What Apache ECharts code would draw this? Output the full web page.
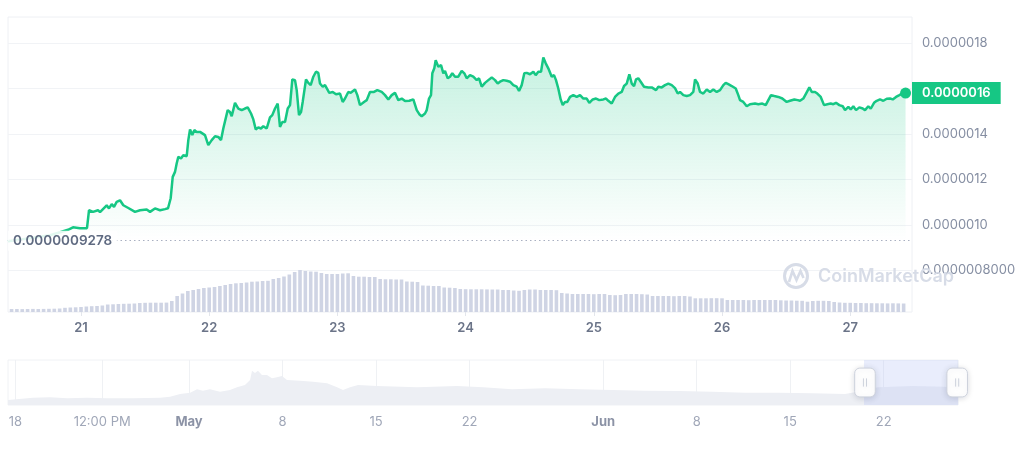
<!DOCTYPE html>
<html><head><meta charset="utf-8">
<script src="https://cdn.jsdelivr.net/npm/echarts@6/dist/echarts.min.js"></script>
<style>html,body{margin:0;padding:0;background:#fff}#chart{width:1024px;height:449px}</style>
</head><body><div id="chart"></div>
<script>
// ---------- DATA ----------
// price (in millionths of USD) by hour offset from 2023-06-20 00:00 local
const priceHours = [10.33,14.45,18.20,20.07,21.57,22.50,23.81,25.12,25.50,26.25,27.18,27.56,28.81,29.24,29.75,30.18,30.68,31.30,31.92,32.86,34.11,35.05,36.30,36.92,37.85,38.79,39.73,40.29,40.79,41.17,41.60,41.92,42.22,42.72,43.15,43.79,44.09,44.41,44.84,45.21,45.66,46.28,47.21,47.83,48.47,49.09,49.70,50.21,50.64,50.96,51.46,51.89,52.21,52.83,53.45,54.08,54.70,55.21,55.83,56.26,56.71,57.19,57.70,58.13,58.76,59.38,59.81,60.32,60.82,61.25,61.69,62.19,62.70,63.13,63.56,64.06,64.38,64.81,65.19,65.50,66.12,66.55,67.00,67.49,67.99,68.42,68.74,69.25,69.68,70.00,70.48,71.12,71.74,72.49,72.99,73.42,74.04,74.49,75.30,75.73,76.23,76.98,77.49,78.10,78.85,79.47,80.29,80.91,81.53,82.17,82.78,83.40,84.04,84.66,85.46,86.21,86.85,87.33,87.78,88.40,88.72,89.15,89.52,89.77,90.14,90.40,90.89,91.40,91.83,92.14,92.65,93.08,93.51,94.02,94.63,95.27,95.76,96.21,96.82,97.44,98.08,98.51,99.02,99.63,100.25,100.89,101.51,102.01,102.44,103.06,103.70,104.31,104.93,105.57,106.00,106.50,106.99,107.44,108.06,108.68,109.12,109.61,110.12,110.55,111.00,111.48,111.80,112.12,112.55,112.92,113.35,113.80,114.18,114.61,115.04,115.55,116.16,116.80,117.42,118.04,118.67,119.16,119.80,120.41,121.03,121.78,122.29,122.72,123.35,123.97,124.59,125.22,125.66,126.16,126.65,127.10,127.53,127.90,128.33,128.78,129.40,130.20,130.84,131.65,132.08,132.71,133.33,133.95,134.59,135.20,135.71,136.14,136.76,137.39,138.01,138.63,138.95,139.45,139.88,140.50,141.14,141.76,142.37,143.01,143.63,144.25,144.69,145.18,145.82,146.57,147.05,147.37,147.99,148.63,149.24,150.18,150.80,151.55,152.18,152.67,153.17,153.79,154.54,155.29,156.11,156.73,157.54,158.17,158.60,159.22,159.73,160.35,160.80,161.41,161.84,162.48,163.10,163.72,164.35,164.84,165.34,165.96,166.60,167.03,167.65,168.10,168.58,169.09,169.71,170.34,170.77,171.39,171.84,172.46,172.96,173.58,174.20,174.84,175.45,175.96,176.58,177.20,177.94,178.36];
const priceMicro = [0.9278,0.941,0.954,0.967,0.978,0.989,0.985,0.985,1.064,1.057,1.064,1.056,1.086,1.072,1.091,1.079,1.101,1.108,1.086,1.074,1.057,1.064,1.067,1.057,1.072,1.064,1.069,1.073,1.117,1.211,1.233,1.271,1.299,1.292,1.307,1.302,1.373,1.420,1.395,1.417,1.409,1.409,1.395,1.351,1.373,1.390,1.387,1.373,1.424,1.431,1.505,1.497,1.478,1.537,1.512,1.505,1.512,1.517,1.490,1.464,1.420,1.429,1.424,1.434,1.424,1.473,1.483,1.512,1.534,1.431,1.453,1.453,1.512,1.527,1.640,1.637,1.593,1.483,1.496,1.541,1.640,1.625,1.615,1.652,1.674,1.669,1.622,1.608,1.615,1.622,1.581,1.585,1.575,1.578,1.541,1.556,1.585,1.581,1.596,1.571,1.527,1.541,1.549,1.585,1.585,1.593,1.585,1.571,1.552,1.571,1.581,1.549,1.556,1.545,1.546,1.552,1.505,1.487,1.478,1.490,1.505,1.556,1.571,1.667,1.689,1.725,1.696,1.703,1.667,1.678,1.645,1.652,1.667,1.652,1.652,1.678,1.667,1.645,1.659,1.652,1.637,1.645,1.608,1.625,1.637,1.649,1.637,1.622,1.630,1.637,1.634,1.630,1.615,1.608,1.589,1.615,1.667,1.669,1.663,1.674,1.659,1.674,1.674,1.737,1.711,1.689,1.685,1.652,1.659,1.637,1.600,1.552,1.527,1.541,1.541,1.563,1.571,1.563,1.571,1.556,1.556,1.537,1.552,1.556,1.549,1.552,1.556,1.546,1.534,1.563,1.578,1.585,1.611,1.622,1.663,1.622,1.611,1.640,1.645,1.630,1.608,1.605,1.605,1.593,1.608,1.605,1.615,1.622,1.615,1.602,1.578,1.585,1.571,1.567,1.571,1.585,1.640,1.622,1.585,1.578,1.596,1.585,1.596,1.585,1.593,1.615,1.625,1.619,1.611,1.600,1.571,1.549,1.541,1.522,1.531,1.534,1.531,1.534,1.527,1.549,1.571,1.567,1.563,1.556,1.541,1.546,1.552,1.549,1.546,1.556,1.578,1.605,1.585,1.585,1.578,1.563,1.527,1.531,1.534,1.531,1.537,1.527,1.522,1.505,1.519,1.508,1.522,1.505,1.517,1.512,1.505,1.522,1.511,1.537,1.546,1.552,1.546,1.555,1.556,1.552,1.563,1.571,1.581,1.580];

// hourly volume bars (arbitrary units), first bar at hour 11 after 2023-06-20 00:00
const volumeStartHour = 11;
const volumeValues = [0.30,0.30,0.29,0.30,0.31,0.30,0.31,0.32,0.33,0.35,
  0.42,0.45,0.47,0.50, 0.55,0.58,0.60,0.65, 0.75,0.77, 0.80,0.82,0.83,0.85,
  0.90,0.92,0.93,0.93,0.93,0.94,
  1.10,1.60,1.85,2.10,2.20,2.30,2.40,2.45,2.50,2.60,2.70,2.80,2.87,2.90,2.95,3.03,3.05,3.10,3.12,
  3.30,3.40,3.55,3.75,4.00,4.20,4.10,4.05,4.03,3.90,3.80,3.80,3.80,3.85,3.87,
  3.60,3.53,3.53,3.50,3.50, 3.30,3.27,3.27,3.25,3.25, 3.05,3.03,3.00, 2.65,2.63,2.60,2.60, 2.45,2.43,2.40,
  2.30,2.28,2.27,2.27,2.27,2.26,2.25,2.25,2.20,2.20,2.15,2.12,2.20,
  2.25,2.25,2.20,2.20,2.20,2.18,
  1.90,1.85,1.80,1.80,1.80,1.80,1.78,1.80,1.80, 1.70,1.68,1.70, 1.80,1.80,1.80,1.78,1.75,
  1.60,1.60,1.60,1.60,1.58,1.60,1.60,1.55, 1.37,1.37,1.37,1.38,1.38,1.37,
  1.20,1.20,1.20,1.20,1.18,1.20,1.20,1.20,1.20,1.20,1.17,1.15,1.15,1.13,1.12,
  1.03,1.10,1.12,1.12,1.10,1.00,0.95,0.92,0.92,0.90,0.90,0.88,0.88,
  0.87,0.87,0.86,0.87,0.86,0.85];

// long-range overview (navigator) prices, millionths of USD
const overviewTimes = ['2023-04-17 10:48','2023-04-19 07:40','2023-04-20 14:24','2023-04-21 21:00','2023-04-23 09:00','2023-04-24 20:40','2023-04-26 19:30','2023-04-28 20:00','2023-04-29 14:00','2023-04-30 08:00','2023-05-01 02:00','2023-05-01 14:24','2023-05-02 01:00','2023-05-02 13:40','2023-05-03 07:40','2023-05-04 01:40','2023-05-04 14:10','2023-05-05 04:30','2023-05-05 13:40','2023-05-05 17:10','2023-05-05 22:30','2023-05-06 03:50','2023-05-06 11:00','2023-05-06 20:00','2023-05-07 05:00','2023-05-07 14:00','2023-05-07 23:00','2023-05-08 08:00','2023-05-09 07:30','2023-05-10 06:45','2023-05-11 08:00','2023-05-12 02:00','2023-05-12 12:40','2023-05-13 01:20','2023-05-13 15:40','2023-05-15 01:40','2023-05-18 01:40','2023-05-21 01:30','2023-05-23 00:15','2023-05-25 04:20','2023-05-27 15:40','2023-05-30 04:30','2023-06-01 15:50','2023-06-04 03:10','2023-06-06 16:20','2023-06-09 03:35','2023-06-11 14:50','2023-06-14 03:50','2023-06-16 15:10','2023-06-19 02:25','2023-06-20 09:00','2023-06-21 13:30','2023-06-24 03:50','2023-06-26 14:40','2023-06-27 13:26'];
const overviewMicro = [0.43,0.63,0.67,0.58,0.63,0.58,0.58,0.63,0.72,0.95,1.07,1.36,1.24,1.36,1.15,1.30,1.53,1.73,2.17,2.97,2.77,2.97,2.60,2.60,2.31,2.40,2.51,2.17,2.11,2.02,1.88,1.53,1.30,1.53,1.73,1.65,1.53,1.65,1.53,1.36,1.45,1.36,1.30,1.24,1.21,1.15,1.07,1.07,1.01,0.95,1.21,1.53,1.65,1.59,1.56];

// ticks / labels
const dayTickTimes = ['2023-06-21','2023-06-22','2023-06-23','2023-06-24','2023-06-25','2023-06-26','2023-06-27'];
const priceTicksMicro = [0.8, 1.0, 1.2, 1.4, 1.6, 1.8];
const navTickTimes = ['2023-04-18 00:00','2023-04-24 12:00','2023-05-01','2023-05-08','2023-05-15','2023-05-22','2023-06-01','2023-06-08','2023-06-15','2023-06-22'];
const monthNames = ['Jan','Feb','Mar','Apr','May','Jun','Jul','Aug','Sep','Oct','Nov','Dec'];

// view ranges
const viewStart = '2023-06-20 10:20';
const viewEnd = '2023-06-27 11:34';
const navStart = '2023-04-17 10:48';
const navEnd = '2023-06-27 13:26';
const priceAxisMin = 0.616, priceAxisMax = 1.915;
const volumeAxisMax = 29.5;
const navAxisMax = 3.9;

// ---------- BUILD ----------
const HOUR = 3600000;
const BASE = new Date(2023, 5, 20, 0, 0).getTime();
function parseLocal(s) {
  const parts = s.split(' ');
  const d = parts[0].split('-').map(Number);
  const t = (parts[1] || '00:00').split(':').map(Number);
  return new Date(d[0], d[1] - 1, d[2], t[0], t[1]).getTime();
}
const priceData = priceHours.map((h, i) => [BASE + h * HOUR, priceMicro[i]]);
const volumeData = volumeValues.map((v, i) => [BASE + (volumeStartHour + i) * HOUR, v]);
const overviewData = overviewTimes.map((s, i) => [parseLocal(s), overviewMicro[i]]);
const lastPoint = priceData[priceData.length - 1];
const firstPrice = priceMicro[0];
const fmtPrice = (v, d) => (v * 1e-6).toFixed(d);

const FONT = 'Inter, "Noto Sans", sans-serif';
const GREEN = '#16c784';

const chart = echarts.init(document.getElementById('chart'), null, { renderer: 'canvas' });
chart.setOption({
  animation: false,
  textStyle: { fontFamily: FONT },
  grid: [
    { left: 8, top: 17, width: 904, height: 295, show: true, borderColor: '#eef0f4', borderWidth: 1, backgroundColor: 'transparent' },
    { left: 8, top: 360, width: 950, height: 45, show: true, borderColor: '#f0f2f5', borderWidth: 1, backgroundColor: 'transparent' }
  ],
  xAxis: [
    {
      type: 'value', gridIndex: 0, min: parseLocal(navStart), max: parseLocal(navEnd), scale: true,
      axisLine: { show: false },
      axisTick: { show: true, length: 4, lineStyle: { color: '#e3e6ec' }, customValues: dayTickTimes.map(parseLocal) },
      axisLabel: { customValues: dayTickTimes.map(parseLocal), margin: 10, color: '#6b7488', fontWeight: 600, fontSize: 13, fontFamily: FONT,
        formatter: v => String(new Date(v).getDate()) },
      splitLine: { show: false }
    },
    {
      type: 'value', gridIndex: 1, min: parseLocal(navStart), max: parseLocal(navEnd), scale: true,
      axisLine: { show: false },
      axisTick: { show: false, customValues: navTickTimes.map(parseLocal) },
      axisLabel: { customValues: navTickTimes.map(parseLocal), margin: 11, color: '#a0a7b8', fontSize: 13, fontFamily: FONT,
        formatter: v => {
          const d = new Date(v); const h = d.getHours(), m = d.getMinutes();
          if (h || m) return (h % 12 || 12) + ':' + String(m).padStart(2, '0') + ' ' + (h < 12 ? 'AM' : 'PM');
          if (d.getDate() === 1) return '{b|' + monthNames[d.getMonth()] + '}';
          return String(d.getDate());
        },
        rich: { b: { fontWeight: 700, color: '#8c93a6', fontSize: 13, fontFamily: FONT } }
      },
      splitLine: { show: true, lineStyle: { color: '#eff1f4', width: 1 } }
    }
  ],
  yAxis: [
    {
      type: 'value', gridIndex: 0, position: 'right', min: priceAxisMin, max: priceAxisMax,
      axisLine: { show: false },
      axisTick: { show: false, customValues: priceTicksMicro },
      axisLabel: { customValues: priceTicksMicro, margin: 10, color: '#858ea2', fontSize: 13, fontFamily: FONT,
        formatter: v => v < 0.99 ? fmtPrice(v, 10) : fmtPrice(v, 7) },
      splitLine: { show: true, lineStyle: { color: '#f1f3f6', width: 1 } }
    },
    { type: 'value', gridIndex: 0, min: 0, max: volumeAxisMax, show: false, splitLine: { show: false } },
    { type: 'value', gridIndex: 1, min: 0, max: navAxisMax, show: false, splitLine: { show: false } }
  ],
  dataZoom: [{
    type: 'slider', xAxisIndex: 0, filterMode: 'none',
    startValue: parseLocal(viewStart), endValue: parseLocal(viewEnd),
    left: 8, width: 950, top: 360, height: 45,
    showDataShadow: false, showDetail: false, brushSelect: false,
    backgroundColor: 'rgba(0,0,0,0)', borderColor: 'rgba(0,0,0,0)',
    fillerColor: 'rgba(188,198,245,0.32)',
    handleIcon: 'path://M5,0H15A5,5,0,0,1,20,5V23A5,5,0,0,1,15,28H5A5,5,0,0,1,0,23V5A5,5,0,0,1,5,0ZM8.5,10V18M11.5,10V18',
    handleSize: '64%',
    handleStyle: { color: '#ffffff', borderColor: '#cdd2dc', borderWidth: 1, shadowBlur: 6, shadowColor: 'rgba(30,40,70,0.15)', shadowOffsetY: 1 },
    moveHandleSize: 0,
    moveHandleStyle: { color: 'rgba(0,0,0,0)', opacity: 0 },
    emphasis: { handleStyle: { borderColor: '#cdd2dc' }, moveHandleStyle: { opacity: 0 } },
    z: 10
  }],
  graphic: [
    { type: 'circle', silent: true, z: 1, shape: { cx: 796, cy: 276, r: 11.5 }, style: { fill: 'none', stroke: '#d7dce7', lineWidth: 3 } },
    { type: 'polyline', silent: true, z: 1, shape: { points: [[789, 282], [792.5, 271], [796.5, 280], [800.5, 271], [803.5, 278]] }, style: { fill: 'none', stroke: '#d7dce7', lineWidth: 2.6 } },
    { type: 'text', silent: true, z: 1, style: { text: 'CoinMarketCap', x: 818, y: 277, verticalAlign: 'middle', font: '600 18px Inter', fill: '#d7dce7' } }
  ],
  series: [
    {
      name: 'Volume', type: 'bar', xAxisIndex: 0, yAxisIndex: 1, data: volumeData,
      barWidth: 3.6, itemStyle: { color: '#cfd4e4' }, silent: true, z: 1
    },
    {
      name: 'Price', type: 'line', xAxisIndex: 0, yAxisIndex: 0, data: priceData,
      showSymbol: false, symbol: 'none', z: 3,
      lineStyle: { color: GREEN, width: 2.5 },
      areaStyle: { color: { type: 'linear', x: 0, y: 0, x2: 0, y2: 1, colorStops: [
        { offset: 0, color: 'rgba(22,199,132,0.35)' },
        { offset: 0.72, color: 'rgba(22,199,132,0)' },
        { offset: 1, color: 'rgba(22,199,132,0)' }] } },
      markLine: {
        silent: true, symbol: ['none', 'none'], animation: false,
        data: [
          { yAxis: firstPrice,
            lineStyle: { type: [1.5, 3], color: '#a9b0c1', width: 1.2 },
            label: { position: 'insideStart', distance: [0, 0], formatter: () => fmtPrice(firstPrice, 10),
              color: '#5f6a81', fontWeight: 600, fontSize: 13.5, fontFamily: FONT,
              backgroundColor: 'rgba(255,255,255,0.88)', padding: [3, 5, 3, 5] } },
          { yAxis: lastPoint[1],
            lineStyle: { color: 'rgba(0,0,0,0)', width: 1, type: 'solid' },
            label: { show: true, position: 'end', distance: 0, formatter: () => fmtPrice(lastPoint[1], 7),
              color: '#ffffff', fontWeight: 600, fontSize: 13, fontFamily: FONT, opacity: 1,
              backgroundColor: GREEN, padding: [5, 10, 4, 10] } }
        ]
      },
      markPoint: {
        silent: true, symbol: 'circle', symbolSize: 11, itemStyle: { color: GREEN }, label: { show: false },
        data: [{ coord: lastPoint }]
      }
    },
    {
      name: 'Overview', type: 'line', xAxisIndex: 1, yAxisIndex: 2, data: overviewData,
      showSymbol: false, symbol: 'none', silent: true,
      lineStyle: { width: 0, opacity: 0 },
      areaStyle: { color: '#edeff4', opacity: 1 }
    }
  ]
});
</script></body></html>
